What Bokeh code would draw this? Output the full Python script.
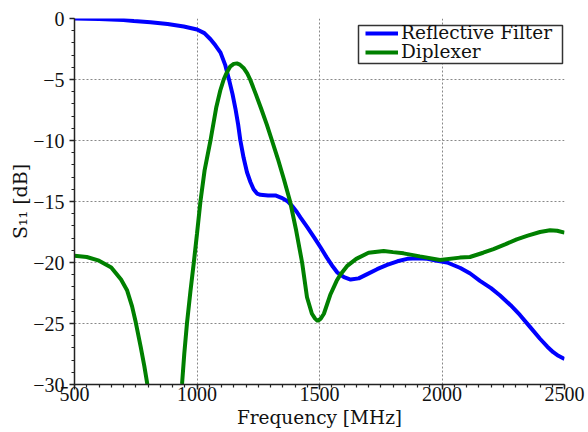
from bokeh.plotting import figure
from bokeh.models import (Range1d, SingleIntervalTicker, CustomJSTickFormatter,
                          Legend, LegendItem, BoxAnnotation)
from bokeh.embed import file_html
from bokeh.resources import INLINE

# ---- data ----
refl_f = [500, 600, 700, 742, 810, 880, 946, 1000, 1030, 1055, 1075, 1096, 1115,
          1130, 1145, 1157, 1168, 1177, 1190, 1204, 1218, 1231, 1245, 1259, 1290,
          1320, 1345, 1368, 1390, 1409, 1422, 1450, 1480, 1504, 1530, 1555, 1572,
          1600, 1627, 1660, 1695, 1735, 1776, 1818, 1858, 1900, 1940, 1980, 2021,
          2075, 2115, 2155, 2200, 2237, 2280, 2318, 2360, 2400, 2430, 2454, 2475, 2500]
refl_db = [0.0, -0.05, -0.12, -0.2, -0.3, -0.45, -0.65, -0.9, -1.2, -1.7, -2.2, -2.8,
           -3.8, -4.95, -6.2, -7.4, -8.7, -10.0, -11.4, -12.6, -13.4, -14.0, -14.35,
           -14.45, -14.5, -14.5, -14.7, -14.95, -15.4, -15.9, -16.3, -17.1, -18.0,
           -18.75, -19.6, -20.35, -20.8, -21.2, -21.4, -21.3, -20.95, -20.55, -20.2,
           -19.9, -19.7, -19.65, -19.7, -19.85, -20.0, -20.45, -20.9, -21.5, -22.1,
           -22.7, -23.5, -24.3, -25.3, -26.25, -26.9, -27.35, -27.65, -27.9]

dipl_f = [500, 550, 600, 650, 690, 715, 735, 750, 770, 785, 800, 868, 939, 948, 959,
          973, 987, 1000, 1014, 1031, 1055, 1079, 1095, 1109, 1120, 1135, 1150, 1163,
          1175, 1190, 1205, 1217, 1240, 1262, 1285, 1306, 1330, 1355, 1380, 1405, 1429,
          1449, 1469, 1482, 1493, 1505, 1518, 1545, 1570, 1585, 1612, 1650, 1700, 1762,
          1800, 1843, 1910, 1992, 2073, 2114, 2168, 2210, 2260, 2305, 2350, 2400, 2441,
          2470, 2500]
dipl_db = [-19.45, -19.55, -19.85, -20.4, -21.4, -22.3, -23.6, -24.9, -26.9, -28.5,
           -30.3, -45.0, -29.95, -27.5, -25.0, -22.4, -20.0, -17.65, -15.0, -12.45,
           -10.0, -7.25, -5.9, -5.0, -4.5, -3.95, -3.72, -3.68, -3.78, -4.05, -4.5,
           -5.0, -6.2, -7.4, -8.7, -10.0, -11.5, -13.2, -15.0, -17.4, -20.0, -22.85,
           -24.2, -24.6, -24.8, -24.6, -24.2, -22.6, -21.5, -21.0, -20.3, -19.7, -19.2,
           -19.05, -19.15, -19.25, -19.5, -19.8, -19.6, -19.55, -19.2, -18.9, -18.5,
           -18.1, -17.8, -17.5, -17.35, -17.4, -17.55]

series_names = ["Reflective Filter", "Diplexer"]
series_colors = ["#0000ff", "#008000"]

TICK_FONT = "'Liberation Serif', 'Times New Roman', serif"
TEXT_FONT = "DejaVu Serif"

p = figure(width=588, height=432, output_backend="svg", toolbar_location=None,
           x_range=Range1d(500, 2500), y_range=Range1d(-30, 0),
           min_border_left=74, min_border_right=24, min_border_top=18,
           min_border_bottom=48)
p.outline_line_color = None
p.background_fill_color = "white"
p.border_fill_color = "white"

r1 = p.line(refl_f, refl_db, line_color=series_colors[0], line_width=4)
r2 = p.line(dipl_f, dipl_db, line_color=series_colors[1], line_width=4)

xt = SingleIntervalTicker(interval=500, num_minor_ticks=10)
yt = SingleIntervalTicker(interval=5, num_minor_ticks=5)
p.xaxis.ticker = xt
p.yaxis.ticker = yt
p.xgrid.ticker = xt
p.ygrid.ticker = yt
p.yaxis.formatter = CustomJSTickFormatter(
    code="return tick < 0 ? '\u2212' + Math.abs(tick) : '' + tick;")

for ax in (p.xaxis[0], p.yaxis[0]):
    ax.axis_line_color = "#222222"
    ax.axis_line_width = 1.5
    ax.major_tick_line_color = "#222222"
    ax.major_tick_line_width = 1.5
    ax.minor_tick_line_color = "#222222"
    ax.minor_tick_line_width = 1.2
    ax.major_tick_out = 5
    ax.major_tick_in = 0
    ax.minor_tick_out = 3
    ax.minor_tick_in = 0
    ax.major_label_text_font = TICK_FONT
    ax.major_label_text_font_size = "20px"
    ax.major_label_text_color = "#111111"
    ax.axis_label_text_font = TEXT_FONT
    ax.axis_label_text_font_style = "normal"
    ax.axis_label_text_color = "#111111"

p.xaxis.axis_label_text_font_size = "18.5px"
p.yaxis.axis_label_text_font_size = "19px"
p.xaxis.axis_label = "Frequency [MHz]"
p.yaxis.axis_label = "S\u2081\u2081 [dB]"
p.xaxis.major_label_standoff = -3
p.xaxis.axis_label_standoff = 3
p.yaxis.major_label_standoff = 5
p.yaxis.axis_label_standoff = -1

for g in (p.xgrid[0], p.ygrid[0]):
    g.grid_line_color = "#888888"
    g.grid_line_width = 1
    g.grid_line_dash = "2 2"

# legend frame (screen units, relative to the plot frame)
box = BoxAnnotation(left=284, right=488, bottom=321, top=359,
                    left_units="screen", right_units="screen",
                    bottom_units="screen", top_units="screen",
                    fill_color="white", fill_alpha=1.0,
                    line_color="#333333", line_width=1.5, line_alpha=1.0)
p.add_layout(box)

legA = Legend(items=[LegendItem(label=series_names[0], renderers=[r1])],
              location=(291, 341))
legB = Legend(items=[LegendItem(label=series_names[1], renderers=[r2])],
              location=(291, 322))
for lg in (legA, legB):
    lg.margin = 0
    lg.padding = 0
    lg.spacing = 0
    lg.glyph_width = 33
    lg.glyph_height = 14
    lg.label_height = 14
    lg.label_standoff = 3
    lg.label_text_font = TEXT_FONT
    lg.label_text_font_size = "18.5px"
    lg.label_text_color = "#111111"
    lg.border_line_color = None
    lg.background_fill_alpha = 0.0
    p.add_layout(lg, "center")

open("out.html", "w").write(file_html(p, INLINE))
